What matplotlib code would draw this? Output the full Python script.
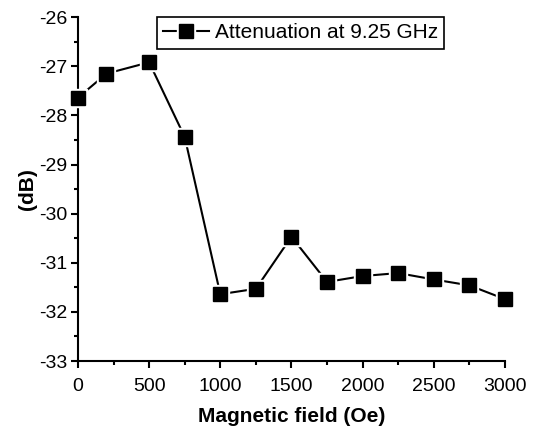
import numpy as np
import matplotlib.pyplot as plt
from matplotlib.legend_handler import HandlerTuple

plt.rcParams['font.family'] = ['Liberation Sans', 'DejaVu Sans']
plt.rcParams['axes.unicode_minus'] = False

# Magnetic field (Oe) and attenuation (dB)
field = [0, 200, 500, 750, 1000, 1250, 1500, 1750, 2000, 2250, 2500, 2750, 3000]
atten = [-27.64, -27.15, -26.92, -28.44, -31.64, -31.53, -30.47, -31.39,
         -31.27, -31.21, -31.34, -31.46, -31.74]

fig = plt.figure(figsize=(5.36, 4.28), dpi=100)
ax = fig.add_axes([0.1455, 0.1565, 0.7965, 0.8035])

line, = ax.plot(field, atten, color='black', lw=1.5, clip_on=False, zorder=2)
gap, = ax.plot(field, atten, 's', color='white', ms=13, ls='none', clip_on=False, zorder=3)
mk, = ax.plot(field, atten, 's', color='black', ms=10, ls='none', clip_on=False, zorder=4)

ax.set_xlim(0, 3000)
ax.set_ylim(-33, -26)
ax.set_xticks(np.arange(0, 3001, 500))
ax.set_xticks(np.arange(0, 3001, 250), minor=True)
ax.set_yticks(np.arange(-33, -25.9, 1))
ax.set_yticks(np.arange(-33, -25.9, 0.5), minor=True)

for s in ['top', 'right']:
    ax.spines[s].set_visible(False)
for s in ['left', 'bottom']:
    ax.spines[s].set_linewidth(1.5)
ax.tick_params(which='major', direction='out', length=5, width=1.5, labelsize=14, pad=3)
ax.tick_params(axis='x', which='major', pad=7)
ax.tick_params(which='minor', direction='out', length=3, width=1.5)

ax.set_xlabel('Magnetic field (Oe)', fontsize=15, fontweight='bold', labelpad=9)
ax.set_ylabel('(dB)', fontsize=15, fontweight='bold', labelpad=1)

leg = ax.legend([(line, gap, mk)], ['Attenuation at 9.25 GHz'],
                handler_map={tuple: HandlerTuple(ndivide=1, pad=0)},
                loc='upper center', bbox_to_anchor=(0.521, 1.0), fontsize=15,
                fancybox=False, framealpha=1, edgecolor='black',
                handlelength=2.2, handletextpad=0.3, borderpad=0.3, borderaxespad=0)
leg.get_frame().set_linewidth(1.2)

fig.savefig('out.png', dpi=100)
